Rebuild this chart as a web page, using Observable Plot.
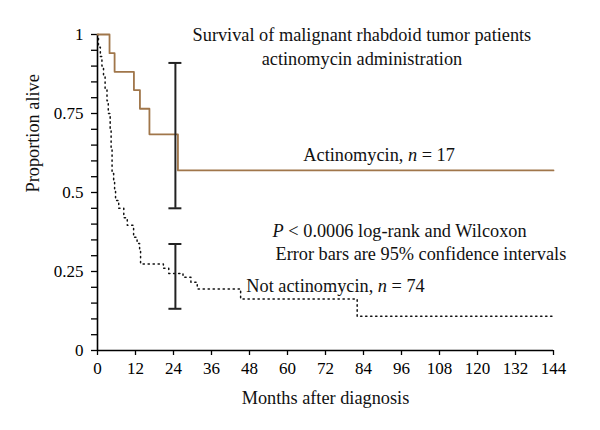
<!DOCTYPE html>
<html><head><meta charset="utf-8">
<script src="https://cdn.jsdelivr.net/npm/d3@7"></script>
<script src="https://cdn.jsdelivr.net/npm/@observablehq/plot@0.6"></script>
<style>body{margin:0;background:#fff;} #chart svg{display:block}</style>
</head><body><div id="chart"></div>
<script>
// Actinomycin group (n = 17): step times (months) and survival after each step
const actMonths = [0, 3.8, 5.4, 11.5, 13.4, 16.4, 25.4, 144];
const actSurv   = [1, 0.941, 0.882, 0.824, 0.765, 0.684, 0.57, 0.57];

// Not actinomycin group (n = 74)
const notMonths = [0, 0.3, 0.9, 1.4, 1.9, 2.4, 3.0, 3.4, 4.0, 4.3, 4.6, 5.1, 5.4, 5.7, 6.7, 8.3, 9.4, 11.4, 12.5, 13.3, 13.6, 20.8, 22.5, 24, 27, 29.5, 31.5, 45.2, 82, 144];
const notSurv   = [1, 0.96, 0.93, 0.90, 0.87, 0.83, 0.79, 0.75, 0.70, 0.64, 0.56, 0.54, 0.51, 0.475, 0.45, 0.42, 0.396, 0.358, 0.339, 0.316, 0.274, 0.26, 0.244, 0.244, 0.232, 0.216, 0.195, 0.163, 0.108, 0.108];

// 95% confidence interval error bars
const errMonths = [24.6, 24.6];
const errLow    = [0.45, 0.132];
const errHigh   = [0.91, 0.337];

// Axis ticks
const xTicks = [0, 12, 24, 36, 48, 60, 72, 84, 96, 108, 120, 132, 144];
const xTickLabels = ["0", "12", "24", "36", "48", "60", "72", "84", "96", "108", "120", "132", "144"];
const yTicks = [0, 0.05, 0.1, 0.15, 0.2, 0.25, 0.3, 0.35, 0.4, 0.45, 0.5, 0.55, 0.6, 0.65, 0.7, 0.75, 0.8, 0.85, 0.9, 0.95, 1];
const yLabelTicks = [0, 0.25, 0.5, 0.75, 1];
const yTickLabels = ["0", "0.25", "0.5", "0.75", "1"];

// Annotations
const annoText   = ["Survival of malignant rhabdoid tumor patients", "actinomycin administration", "Actinomycin, n = 17", "P < 0.0006 log-rank and Wilcoxon", "Error bars are 95% confidence intervals", "Not actinomycin, n = 74"];
const annoItalic = [null, null, "n", "P", null, "n"];
const annoX      = [83.5, 83.5, 65.0, 55.3, 56.2, 47.0];
const annoY      = [0.981, 0.902, 0.601, 0.358, 0.285, 0.184];
const annoAnchor = ["middle", "middle", "start", "start", "start", "start"];

const brown = "#a0764a";
const act = actMonths.map((m, i) => ({m, s: actSurv[i]}));
const not = notMonths.map((m, i) => ({m, s: notSurv[i]}));
const err = errMonths.map((m, i) => ({m, lo: errLow[i], hi: errHigh[i]}));
const caps = err.flatMap(d => [{m: d.m, y: d.lo}, {m: d.m, y: d.hi}]);
const anno = annoText.map((t, i) => ({t, x: annoX[i], y: annoY[i], a: annoAnchor[i], it: annoItalic[i]}));
const capHalf = 2.05;
const textFont = {x: "x", y: "y", text: "t", lineAnchor: "bottom", fontSize: 18.3, fill: "#111"};

const plot = Plot.plot({
  width: 600, height: 430,
  marginLeft: 97, marginRight: 47, marginTop: 34, marginBottom: 80,
  style: {fontFamily: "'Liberation Serif', 'Times New Roman', serif", fontSize: "17px", background: "#fff", color: "#000", overflow: "visible"},
  x: {domain: [0, 144]},
  y: {domain: [0, 1]},
  marks: [
    Plot.axisY({ticks: yTicks, tickFormat: d => { const k = yLabelTicks.findIndex(v => Math.abs(v - d) < 1e-9); return k >= 0 ? yTickLabels[k] : ""; }, tickSize: 6, tickPadding: 8, fontSize: 17, strokeWidth: 1.3, label: null}),
    Plot.axisX({ticks: xTicks, tickFormat: d => xTickLabels[xTicks.indexOf(d)], tickSize: 5, tickPadding: 6, fontSize: 17, strokeWidth: 1.3, label: null}),
    Plot.ruleX([0], {y1: 0, y2: 1, strokeWidth: 1.6}),
    Plot.ruleY([0], {x1: 0, x2: 144, strokeWidth: 1.6}),
    Plot.line(not, {x: "m", y: "s", curve: "step-after", stroke: "#111", strokeWidth: 1.5, strokeDasharray: "1.3,3.7"}),
    Plot.line(act, {x: "m", y: "s", curve: "step-after", stroke: brown, strokeWidth: 1.8}),
    Plot.ruleX(err, {x: "m", y1: "lo", y2: "hi", stroke: "#222", strokeWidth: 2}),
    Plot.ruleY(caps, {y: "y", x1: d => d.m - capHalf, x2: d => d.m + capHalf, stroke: "#222", strokeWidth: 2}),
    Plot.text(anno.filter(d => d.a === "middle"), {...textFont, textAnchor: "middle"}),
    Plot.text(anno.filter(d => d.a === "start"), {...textFont, textAnchor: "start"}),
    Plot.text(["Months after diagnosis"], {frameAnchor: "bottom", dy: 53, lineAnchor: "bottom", fontSize: 18.3, fill: "#111"}),
    Plot.text(["Proportion alive"], {frameAnchor: "left", dx: -59, rotate: -90, lineAnchor: "bottom", fontSize: 18.3, fill: "#111"})
  ]
});

// italicize the statistical symbols (n, P) inside annotation texts
d3.select(plot).selectAll("text").each(function() {
  const t = this.textContent;
  const a = anno.find(d => d.t === t && d.it);
  if (!a) return;
  const re = new RegExp("(^|\\s)" + a.it + "(?=\\s|$)");
  const m = re.exec(t);
  if (!m) return;
  const idx = m.index + m[1].length;
  const parts = [t.slice(0, idx), a.it, t.slice(idx + a.it.length)];
  this.textContent = "";
  parts.forEach((p, k) => {
    if (!p) return;
    const ts = document.createElementNS("http://www.w3.org/2000/svg", "tspan");
    ts.textContent = p;
    if (k === 1) ts.setAttribute("font-style", "italic");
    this.appendChild(ts);
  });
});

document.getElementById("chart").appendChild(plot);
</script>
</body></html>
